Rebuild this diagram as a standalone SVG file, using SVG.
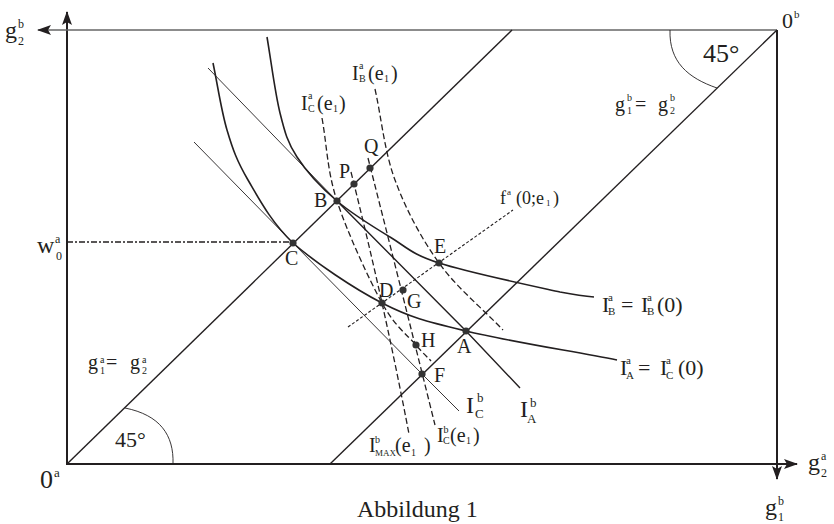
<svg xmlns="http://www.w3.org/2000/svg" width="834" height="524" viewBox="0 0 834 524">
<style>
text{font-family:"Liberation Serif","Times New Roman",serif;fill:#231f20}
.ax{stroke:#231f20;stroke-width:2;fill:none}
.top{stroke:#666;stroke-width:1.6;fill:none}
.diag{stroke:#231f20;stroke-width:1.4;fill:none}
.ic{stroke:#231f20;stroke-width:1.6;fill:none}
.thin{stroke:#231f20;stroke-width:0.9;fill:none}
.mid{stroke:#231f20;stroke-width:1.4;fill:none}
.dash{stroke:#231f20;stroke-width:1.3;stroke-dasharray:6 3;fill:none}
.dot{stroke:#231f20;stroke-width:1.1;stroke-dasharray:3 2;fill:none}
.dd{stroke:#231f20;stroke-width:1.6;stroke-dasharray:6 2 2 2;fill:none}
.pt{fill:#333}
.s{font-size:10px}
</style>
<defs>
<marker id="arr" viewBox="0 0 14 10" refX="13" refY="5" markerWidth="14" markerHeight="10" markerUnits="userSpaceOnUse" orient="auto">
<path d="M0,0 L14,5 L0,10 L3,5 z" fill="#231f20"/>
</marker>
</defs>
<rect width="834" height="524" fill="#fff"/>
<g id="axes">
<line class="ax" x1="67" y1="464" x2="67" y2="12" marker-end="url(#arr)"/>
<line class="top" x1="777" y1="30" x2="38" y2="30" marker-end="url(#arr)"/>
<line class="ax" x1="777" y1="30" x2="777" y2="479" marker-end="url(#arr)"/>
<line class="ax" x1="66" y1="464" x2="797" y2="464" marker-end="url(#arr)"/>
<line class="diag" x1="67" y1="464" x2="512" y2="30"/>
<line class="diag" x1="330" y1="464" x2="777" y2="30"/>
<path class="thin" d="M670,30 C669,62 688,78 717,88"/>
<path class="thin" d="M125,408 C160,415 174,435 173,464"/>
<line class="dd" x1="67" y1="242" x2="293" y2="242"/>
</g>
<g id="connectors">
<path id="IaC0" class="ic" d="M213,63 C217.7,85.3 221.2,110.5 227,130 C232.8,149.5 237,161.3 248,180 C259,198.7 270.7,221.5 293,243 C315.3,262.5 353.2,288.2 382,303 C410.8,317.8 426.8,321.5 466,331 C505.2,340.5 566.7,350.3 617,360"/>
<path id="IaB0" class="ic" d="M267,37 C271.3,62.3 275,93 280,113 C285,133 287.5,142.3 297,157 C306.5,171.7 321.5,187.7 337,201 C352.5,214.3 373,226.7 390,237 C407,247.3 410.7,253.8 439,263 C467.3,272.2 534.2,286.3 560,292 C571,294 583,296 594,297"/>
<path id="IbA" class="thin" d="M208,68 L337,201"/>
<path id="IbA2" class="mid" d="M337,201 L466,331 L520,388"/>
<path id="IbC" class="thin" d="M194,142 L293,243 L422,374 L459,411"/>
<path id="IaCe1" class="dash" d="M322,118 C327,145.7 327,170.2 337,201 C347,231.8 368.8,279 382,303 C395.2,327 407.8,335.3 416,345 C424.2,354.7 426,355.7 431,361"/>
<path id="IbMAXe1" class="dash" d="M351,172 Q384,303 409,434"/>
<path id="IbCe1" class="dash" d="M368,158 Q401,288 435,425"/>
<path id="IaBe1" class="dash" d="M375,89 C381.7,119.3 384.3,151 395,180 C405.7,209 421,238 439,263 C457,288 481.7,307.7 503,330"/>
<line id="fa" class="dot" x1="348" y1="327" x2="513" y2="210"/>
</g>
<g id="points">
<circle id="pB" class="pt" cx="337" cy="201" r="3.6"/>
<circle id="pC" class="pt" cx="293" cy="243" r="3.6"/>
<circle id="pP" class="pt" cx="354" cy="184" r="3.6"/>
<circle id="pQ" class="pt" cx="370" cy="168" r="3.6"/>
<circle id="pE" class="pt" cx="439" cy="263" r="3.6"/>
<circle id="pD" class="pt" cx="382" cy="303" r="3.6"/>
<circle id="pG" class="pt" cx="403" cy="290" r="3.6"/>
<circle id="pA" class="pt" cx="466" cy="331" r="3.6"/>
<circle id="pH" class="pt" cx="416" cy="345" r="3.6"/>
<circle id="pF" class="pt" cx="422" cy="374" r="3.6"/>
</g>
<g id="point-labels" font-size="20">
<text x="314" y="207">B</text>
<text x="285" y="265">C</text>
<text x="434" y="253">E</text>
<text x="379" y="297">D</text>
<text x="407" y="308">G</text>
<text x="457" y="353">A</text>
<text x="421" y="347">H</text>
<text x="434" y="382">F</text>
<text x="339" y="178">P</text>
<text x="364" y="153">Q</text>
</g>
<g id="labels">
<text font-size="20"><tspan x="301" y="110">I</tspan><tspan class="s" x="308" y="99">a</tspan><tspan class="s" x="308" y="112">C</tspan><tspan x="317" y="110">(e</tspan><tspan class="s" x="333" y="112">1</tspan><tspan x="339" y="110">)</tspan></text>
<text font-size="20"><tspan x="352" y="80">I</tspan><tspan class="s" x="359" y="69">a</tspan><tspan class="s" x="359" y="82">B</tspan><tspan x="368" y="80">(e</tspan><tspan class="s" x="384" y="82">1</tspan><tspan x="391" y="80">)</tspan></text>
<text font-size="20"><tspan x="369" y="452">I</tspan><tspan class="s" x="375" y="443">b</tspan><tspan x="375" y="456" font-size="9">MAX</tspan><tspan x="395" y="452">(e</tspan><tspan class="s" x="411" y="456">1</tspan><tspan x="424" y="452">)</tspan></text>
<text font-size="20"><tspan x="437" y="442">I</tspan><tspan class="s" x="443.5" y="433">b</tspan><tspan class="s" x="443" y="444">C</tspan><tspan x="450" y="442">(e</tspan><tspan class="s" x="466" y="444">1</tspan><tspan x="473" y="442">)</tspan></text>
<text font-size="24"><tspan x="466" y="413">I</tspan><tspan x="477" y="402" font-size="13">b</tspan><tspan x="475" y="418" font-size="13">C</tspan></text>
<text font-size="24"><tspan x="520" y="417">I</tspan><tspan x="530" y="407" font-size="13">b</tspan><tspan x="527" y="423" font-size="13">A</tspan></text>
<text font-size="22"><tspan x="602" y="312">I</tspan><tspan x="608" y="301" font-size="11">a</tspan><tspan x="608" y="315" font-size="11">B</tspan><tspan x="621" y="312">=</tspan><tspan x="641" y="312">I</tspan><tspan x="647" y="301" font-size="11">a</tspan><tspan x="647" y="315" font-size="11">B</tspan><tspan x="657" y="312">(0)</tspan></text>
<text font-size="22"><tspan x="620" y="375">I</tspan><tspan x="626" y="364" font-size="11">a</tspan><tspan x="626" y="379" font-size="11">A</tspan><tspan x="638" y="375">=</tspan><tspan x="660" y="375">I</tspan><tspan x="666" y="364" font-size="11">a</tspan><tspan x="666" y="379" font-size="11">C</tspan><tspan x="678" y="375">(0)</tspan></text>
<text font-size="18"><tspan x="500" y="204">f</tspan><tspan x="507" y="195" font-size="9">a</tspan><tspan x="516" y="204">(0;e</tspan><tspan x="546" y="206" font-size="9">1</tspan><tspan x="553" y="204">)</tspan></text>
<text font-size="20"><tspan x="615" y="111">g</tspan><tspan class="s" x="627" y="101">b</tspan><tspan class="s" x="627" y="114">1</tspan><tspan x="635" y="111">=</tspan><tspan x="658" y="111">g</tspan><tspan class="s" x="670" y="101">b</tspan><tspan class="s" x="670" y="114">2</tspan></text>
<text font-size="20"><tspan x="88" y="369">g</tspan><tspan class="s" x="100" y="363">a</tspan><tspan class="s" x="100" y="374">1</tspan><tspan x="106" y="369">=</tspan><tspan x="130" y="369">g</tspan><tspan class="s" x="142" y="363">a</tspan><tspan class="s" x="142" y="374">2</tspan></text>
<text font-size="24"><tspan x="5" y="38">g</tspan><tspan x="18" y="28" font-size="12">b</tspan><tspan x="18" y="45" font-size="12">2</tspan></text>
<text font-size="24"><tspan x="37" y="253">w</tspan><tspan x="55" y="243" font-size="12">a</tspan><tspan x="56" y="260" font-size="12">0</tspan></text>
<text font-size="24"><tspan x="808" y="470">g</tspan><tspan x="821" y="460" font-size="12">a</tspan><tspan x="821" y="477" font-size="12">2</tspan></text>
<text font-size="24"><tspan x="765" y="515">g</tspan><tspan x="778" y="505" font-size="12">b</tspan><tspan x="778" y="521" font-size="12">1</tspan></text>
<text font-size="22"><tspan x="782" y="28">0</tspan><tspan x="794" y="18" font-size="11">b</tspan></text>
<text font-size="26"><tspan x="40" y="488">0</tspan><tspan x="54" y="477" font-size="13">a</tspan></text>
<text x="703" y="62" font-size="26">45°</text>
<text x="115" y="447" font-size="22">45°</text>
<text x="357" y="517" font-size="24">Abbildung 1</text>
</g>
</svg>
